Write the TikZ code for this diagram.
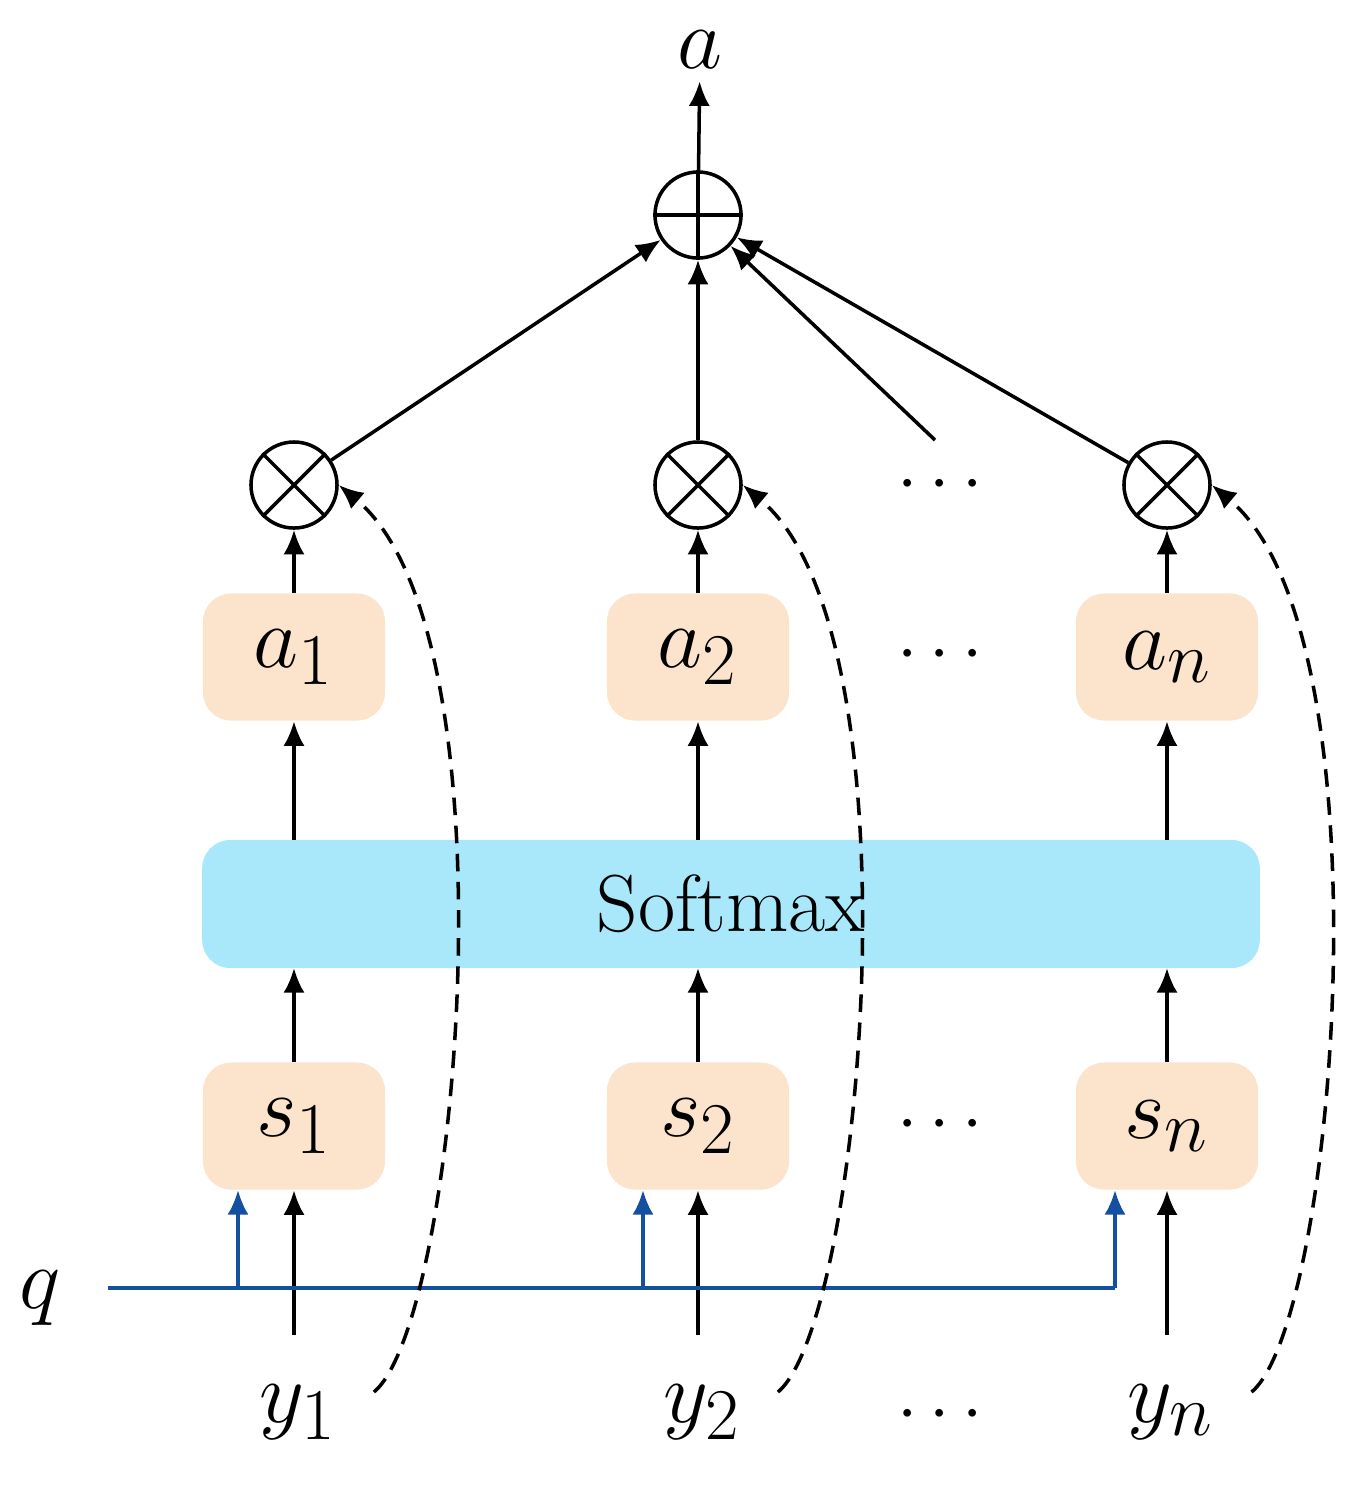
\documentclass[tikz,border=0pt]{standalone}
\usetikzlibrary{arrows.meta,calc}
\begin{document}
\begin{tikzpicture}[x=0.01cm,y=-0.01cm,
  ln/.style={line width=1pt,-{Latex[length=7pt,width=6pt]}},
  bl/.style={ln,draw={rgb,255:red,20;green,80;blue,160}},
  dsh/.style={line width=1pt,dashed,dash pattern=on 5pt off 3pt,-{Latex[length=7pt,width=6pt]}},
  box/.style={fill={rgb,255:red,252;green,228;blue,204},rounded corners=8pt,minimum width=1.82cm,minimum height=1.27cm,inner sep=0pt,font=\fontsize{28}{32}\selectfont},
  op/.style={circle,draw,line width=1pt,minimum size=0.86cm,inner sep=0pt},
  lab/.style={font=\fontsize{28}{32}\selectfont},
  dt/.style={font=\fontsize{22}{26}\selectfont}]
\useasboundingbox (0,0) rectangle (1353,1499);
% top
\node[lab,font=\fontsize{26}{30}\selectfont] (A) at (700,50) {$a$};
\node[op] (P) at (698,215) {};
\draw[line width=1pt] (P.north)--(P.south) (P.west)--(P.east);
\foreach \i/\x/\t in {1/294/1,2/698/2,3/1167/n}{
  \node[op] (m\i) at (\x,485) {};
  \draw[line width=1pt] (m\i.north west)--(m\i.south east) (m\i.north east)--(m\i.south west);
  \node[box] (a\i) at (\x,657) {$a_{\t}$};
  \node[box] (s\i) at (\x,1126) {$s_{\t}$};
  \node[lab] (y\i) at (\x+4,1412) {$y_{\t}$};
  \coordinate (yt\i) at (\x,1335);
  \draw[ln] (yt\i) -- (s\i.south);
  \draw[ln] (a\i) -- (m\i);
}
\node[fill={rgb,255:red,168;green,232;blue,250},rounded corners=8pt,minimum width=10.57cm,minimum height=1.28cm,font=\fontsize{23}{27}\selectfont] (S) at (731,904) {Softmax};
\foreach \i/\x in {1/294,2/698,3/1167}{
  \draw[ln] (s\i.north) -- (\x,968);
  \draw[ln] (\x,840) -- (a\i.south);
}
\foreach \y in {485,655,1125,1415} \node[dt] at (940,\y) {$\cdots$};
\draw[ln] (P) -- (A);
\draw[ln] (m1) -- (P);
\draw[ln] (m2) -- (P);
\draw[ln] (m3) -- (P);
\coordinate (d) at (935,440);
\draw[ln] (d) -- (P);
% q
\node[lab] (Q) at (40,1298) {$q$};
\coordinate (q0) at (108,1288);
\coordinate (q3) at (1115,1288);
\draw[line width=1pt,draw={rgb,255:red,20;green,80;blue,160}] (q0) -- (q3);
\draw[bl] (q3) -- (1115,1190);
\foreach \x in {238,643} { \coordinate (qq) at (\x,1288); \draw[bl] (qq) -- (\x,1190); }
% dashed
\foreach \i in {1,2,3}{
  \draw[dsh] ($(y\i.east)+(25,-20)$) .. controls ($(y\i.east)+(110,-90)$) and ($(m\i.east)+(180,150)$) .. (m\i.east);
}
\end{tikzpicture}
\end{document}
